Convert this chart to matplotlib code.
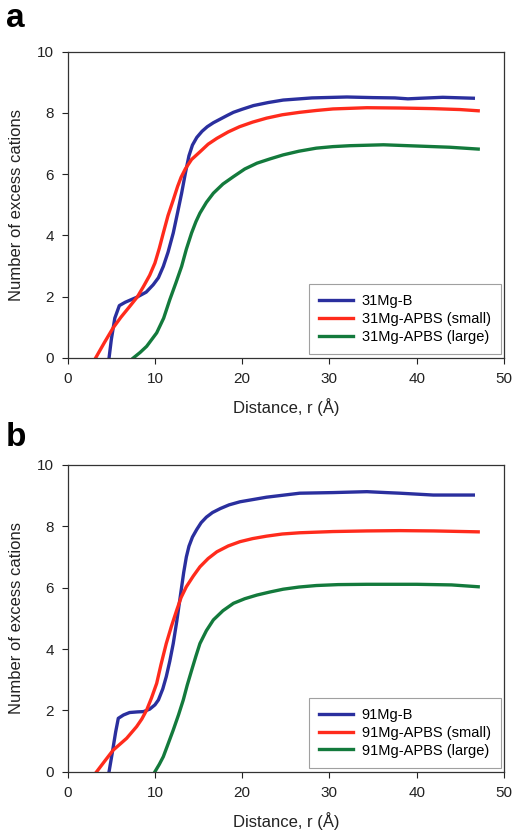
import matplotlib.pyplot as plt

plt.rcParams['font.family'] = ['Liberation Sans', 'DejaVu Sans']

# panel a: 31Mg
a_blue_r = [4.74, 5.0, 5.4, 5.92, 6.6, 7.9, 9.0, 9.8, 10.4, 10.96, 11.5, 12.1, 12.6, 13.06, 13.5, 13.9, 14.3, 14.8, 15.4, 16.0, 16.7, 17.5, 18.3, 19.0, 20.0, 21.3, 23.0, 24.7, 28.0, 32.0, 35.0, 37.5, 39.0, 40.5, 43.0, 46.5]
a_blue_n = [0.0, 0.6, 1.3, 1.71, 1.82, 1.98, 2.15, 2.39, 2.62, 2.99, 3.45, 4.08, 4.75, 5.38, 6.05, 6.6, 6.95, 7.2, 7.4, 7.55, 7.68, 7.8, 7.92, 8.02, 8.12, 8.24, 8.34, 8.42, 8.49, 8.52, 8.5, 8.49, 8.46, 8.48, 8.51, 8.48]
a_red_r = [3.2, 4.2, 5.2, 6.1, 7.1, 8.0, 8.7, 9.4, 10.0, 10.5, 10.96, 11.5, 12.1, 12.6, 13.0, 13.5, 14.2, 15.2, 16.1, 17.1, 18.4, 19.7, 21.2, 22.8, 24.6, 26.6, 28.5, 30.4, 34.3, 38.1, 41.9, 45.0, 47.06]
a_red_n = [0.0, 0.5, 0.98, 1.33, 1.68, 2.0, 2.34, 2.7, 3.1, 3.58, 4.08, 4.65, 5.16, 5.6, 5.9, 6.18, 6.48, 6.74, 6.98, 7.17, 7.38, 7.55, 7.7, 7.83, 7.94, 8.02, 8.08, 8.13, 8.17, 8.16, 8.14, 8.11, 8.07]
a_green_r = [7.52, 8.3, 9.05, 10.2, 11.0, 11.7, 12.4, 13.06, 13.6, 14.2, 14.7, 15.16, 15.9, 16.7, 17.8, 19.0, 20.3, 21.7, 23.2, 24.7, 26.5, 28.5, 30.4, 32.35, 36.2, 40.0, 43.8, 47.06]
a_green_n = [0.0, 0.18, 0.38, 0.82, 1.3, 1.9, 2.45, 2.99, 3.55, 4.08, 4.45, 4.73, 5.08, 5.38, 5.68, 5.92, 6.17, 6.36, 6.5, 6.63, 6.75, 6.85, 6.9, 6.93, 6.96, 6.92, 6.88, 6.82]

# panel b: 91Mg
b_blue_r = [4.74, 5.1, 5.5, 5.8, 6.4, 7.1, 8.0, 8.7, 9.4, 10.0, 10.4, 10.9, 11.3, 11.7, 12.1, 12.5, 12.9, 13.3, 13.6, 13.9, 14.3, 14.8, 15.3, 15.9, 16.6, 17.5, 18.5, 19.75, 22.8, 26.6, 30.4, 34.3, 36.5, 38.1, 41.9, 46.5]
b_blue_n = [0.0, 0.6, 1.3, 1.74, 1.85, 1.93, 1.95, 1.96, 2.04, 2.18, 2.34, 2.7, 3.1, 3.6, 4.18, 4.9, 5.7, 6.5, 7.0, 7.35, 7.65, 7.9, 8.12, 8.3, 8.45, 8.58, 8.7, 8.8, 8.95, 9.08, 9.1, 9.13, 9.1, 9.08, 9.02, 9.02]
b_red_r = [3.32, 4.2, 5.2, 6.0, 6.76, 7.9, 8.5, 9.05, 9.6, 10.2, 10.7, 11.3, 11.9, 12.5, 13.0, 13.6, 14.4, 15.16, 16.1, 17.1, 18.4, 19.75, 21.2, 22.8, 24.6, 26.6, 30.4, 34.3, 38.1, 42.0, 47.06]
b_red_n = [0.0, 0.33, 0.7, 0.9, 1.09, 1.47, 1.72, 2.01, 2.4, 2.88, 3.5, 4.18, 4.75, 5.27, 5.68, 6.03, 6.38, 6.68, 6.95, 7.17, 7.36, 7.5, 7.6, 7.68, 7.75, 7.79, 7.83, 7.85, 7.86, 7.85, 7.82]
b_green_r = [10.0, 10.5, 10.96, 11.5, 12.1, 12.7, 13.25, 13.7, 14.2, 14.7, 15.16, 15.9, 16.7, 17.8, 19.0, 20.3, 21.7, 23.2, 24.7, 26.5, 28.5, 31.0, 34.3, 40.0, 44.0, 47.06]
b_green_n = [0.0, 0.24, 0.49, 0.9, 1.36, 1.85, 2.34, 2.82, 3.3, 3.77, 4.18, 4.6, 4.95, 5.25, 5.49, 5.64, 5.76, 5.86, 5.95, 6.02, 6.07, 6.1, 6.11, 6.11, 6.09, 6.03]

labels_a = ['31Mg-B', '31Mg-APBS (small)', '31Mg-APBS (large)']
labels_b = ['91Mg-B', '91Mg-APBS (small)', '91Mg-APBS (large)']
colors = ['#2a2f9e', '#ff2b1c', '#137a3c']

fig = plt.figure(figsize=(5.18, 8.36), dpi=100)

panels = [
    ('a', [0.1307, 0.5718, 0.842, 0.3664], [(a_blue_r, a_blue_n), (a_red_r, a_red_n), (a_green_r, a_green_n)], labels_a, 0.9677),
    ('b', [0.1307, 0.0769, 0.842, 0.3669], [(b_blue_r, b_blue_n), (b_red_r, b_red_n), (b_green_r, b_green_n)], labels_b, 0.4665),
]

for letter, rect, series, labels, ly in panels:
    ax = fig.add_axes(rect)
    for (r, n), lab, c in zip(series, labels, colors):
        ax.plot(r, n, color=c, lw=2.4, label=lab, solid_joinstyle='round')
    ax.set_xlim(0, 50)
    ax.set_ylim(0, 10)
    ax.set_xticks([0, 10, 20, 30, 40, 50])
    ax.set_yticks([0, 2, 4, 6, 8, 10])
    ax.tick_params(direction='out', length=4, width=0.8, labelsize=11, colors='#222222', pad=6)
    for s in ax.spines.values():
        s.set_linewidth(0.9)
        s.set_color('#333333')
    ax.set_xlabel('Distance, r (Å)', fontsize=12, labelpad=9, color='#222222')
    ax.set_ylabel('Number of excess cations', fontsize=12, labelpad=9, color='#222222')
    leg = ax.legend(loc='lower right', fontsize=10.5, frameon=True, fancybox=False,
                    edgecolor='#888888', handlelength=2.3, handletextpad=0.6, borderpad=0.7,
                    labelspacing=0.25, borderaxespad=0, bbox_to_anchor=(0.993, 0.013))
    leg.get_frame().set_linewidth(0.8)
    fig.text(0.012, ly, letter, fontsize=24, fontweight='bold', va='baseline', ha='left')

fig.savefig('out.png', dpi=100)
